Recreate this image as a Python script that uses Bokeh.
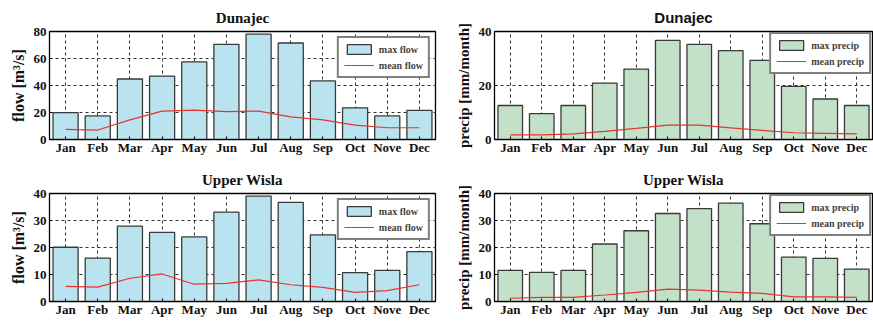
from bokeh.plotting import figure
from bokeh.models import FactorRange, Range1d, FixedTicker, Legend
from bokeh.layouts import gridplot
from bokeh.embed import file_html
from bokeh.resources import INLINE

months = ["Jan", "Feb", "Mar", "Apr", "May", "Jun", "Jul", "Aug", "Sep", "Oct", "Nove", "Dec"]

dun_flow_max = [19.9, 17.5, 44.8, 47.0, 57.5, 70.5, 78.0, 71.5, 43.4, 23.5, 17.5, 21.6]
dun_flow_mean = [7.5, 7.0, 14.5, 21.0, 21.8, 20.6, 21.0, 16.7, 14.5, 10.7, 8.7, 8.7]
dun_prec_max = [12.6, 9.6, 12.6, 20.9, 26.1, 36.7, 35.2, 32.9, 29.3, 19.7, 15.0, 12.6]
dun_prec_mean = [1.7, 1.7, 2.1, 3.0, 4.1, 5.3, 5.3, 4.3, 3.4, 2.5, 2.3, 2.1]
wis_flow_max = [20.1, 16.1, 27.9, 25.6, 23.9, 33.1, 39.0, 36.7, 24.7, 10.7, 11.5, 18.5]
wis_flow_mean = [5.6, 5.3, 8.6, 10.2, 6.4, 6.7, 8.0, 6.2, 5.2, 3.4, 4.0, 6.2]
wis_prec_max = [11.5, 10.8, 11.5, 21.3, 26.2, 32.6, 34.4, 36.4, 28.8, 16.4, 16.0, 12.0]
wis_prec_mean = [1.2, 1.5, 1.5, 2.4, 3.4, 4.6, 4.2, 3.5, 3.0, 1.7, 1.7, 1.5]

titles = ["Dunajec", "Dunajec", "Upper Wisla", "Upper Wisla"]
ylabels = ["flow [m\u00b3/s]", "precip [mm/month]", "flow [m\u00b3/s]", "precip [mm/month]"]
legend_labels = [("max flow", "mean flow"), ("max precip", "mean precip"),
                 ("max flow", "mean flow"), ("max precip", "mean precip")]
yticks = [[0, 20, 40, 60, 80], [0, 20, 40], [0, 10, 20, 30, 40], [0, 10, 20, 30, 40]]

BLUE = "#b8e3ef"
GREEN = "#c3e1c8"
SERIF = "Liberation Serif"
SANS = "Liberation Sans"


def panel(title, tfont, maxv, meanv, ticks, ylabel, lsize, labs, fill,
          w, h, bl, br, bt, bb, leg_margin):
    p = figure(x_range=FactorRange(*months), y_range=Range1d(0, ticks[-1]),
               width=w, height=h,
               min_border_left=bl, min_border_right=br,
               min_border_top=bt, min_border_bottom=bb,
               output_backend="svg", toolbar_location=None)
    r1 = p.vbar(x=months, top=maxv, width=0.78, fill_color=fill,
                line_color="#3a3a3a", line_width=1.3)
    r2 = p.line(x=months, y=meanv, line_color="#e8352b", line_width=1.2)

    p.title.text = title
    p.title.align = "center"
    p.title.text_font = tfont
    p.title.text_font_style = "bold"
    p.title.text_font_size = "15px"
    p.title.text_color = "#111111"
    p.title.standoff = 12
    p.title.offset = 0

    p.yaxis.ticker = FixedTicker(ticks=ticks)
    p.yaxis.axis_label = ylabel
    p.yaxis.axis_label_text_font = SERIF
    p.yaxis.axis_label_text_font_style = "bold"
    p.yaxis.axis_label_text_font_size = lsize
    p.yaxis.axis_label_text_color = "#111111"
    p.yaxis.axis_label_standoff = 4
    for ax in (p.xaxis, p.yaxis):
        ax.major_label_text_font = SERIF
        ax.major_label_text_font_style = "bold"
        ax.major_label_text_font_size = "13px"
        ax.major_label_text_color = "#111111"
        ax.major_tick_in = 3
        ax.major_tick_out = 0
        ax.minor_tick_line_color = None
        ax.axis_line_color = "black"
        ax.major_tick_line_color = "black"
        ax.major_label_standoff = 3
    p.xaxis.major_label_standoff = 0

    p.outline_line_color = "black"
    p.outline_line_width = 1.3
    p.outline_line_alpha = 1.0
    for g in (p.xgrid, p.ygrid):
        g.grid_line_color = "#333333"
        g.grid_line_dash = "3 3"
        g.grid_line_width = 1
    p.background_fill_color = "white"
    p.border_fill_color = "white"

    leg = Legend(items=[(labs[0], [r1]), (labs[1], [r2])], location="top_right")
    leg.label_text_font = SERIF
    leg.label_text_font_style = "bold"
    leg.label_text_font_size = "10px"
    leg.glyph_width = 30
    leg.glyph_height = 12
    leg.label_height = 12
    leg.spacing = 4
    leg.padding = 5
    leg.margin = leg_margin
    leg.border_line_color = "black"
    leg.border_line_width = 2
    leg.background_fill_alpha = 1.0
    p.add_layout(leg)
    return p


p1 = panel(titles[0], SERIF, dun_flow_max, dun_flow_mean, yticks[0], ylabels[0], "16px",
           legend_labels[0], BLUE, 437, 160, 49, 2, 31, 18, 5)
p2 = panel(titles[1], SANS, dun_prec_max, dun_prec_mean, yticks[1], ylabels[1], "15px",
           legend_labels[1], GREEN, 436, 160, 56, 1, 31, 21, 1)
p3 = panel(titles[2], SERIF, wis_flow_max, wis_flow_mean, yticks[2], ylabels[2], "16px",
           legend_labels[2], BLUE, 437, 161, 49, 2, 33, 17, 5)
p4 = panel(titles[3], SERIF, wis_prec_max, wis_prec_mean, yticks[3], ylabels[3], "15px",
           legend_labels[3], GREEN, 436, 161, 57, 1, 33, 20, 1)

layout = gridplot([[p1, p2], [p3, p4]], toolbar_location=None)

open("out.html", "w").write(file_html(layout, INLINE))
